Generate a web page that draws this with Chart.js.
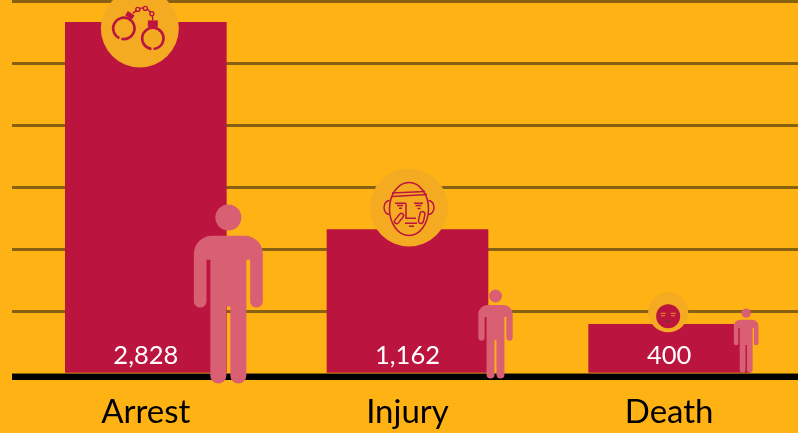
<!DOCTYPE html>
<html>
<head>
<meta charset="utf-8">
<style>
    html, body { margin: 0; padding: 0; background: #FFB213; overflow: hidden; }
    canvas { display: block; }
</style>
<script src="https://cdn.jsdelivr.net/npm/chart.js@4/dist/chart.umd.min.js"></script>
</head>
<body>
<canvas id="myChart" width="800" height="433"></canvas>
<script>
const categories = ["Arrest", "Injury", "Death"];
const incidents = [2828, 1162, 400];
const yTicks = [0, 500, 1000, 1500, 2000, 2500, 3000];

const barColor = '#BB143F';
const badgeColor = '#F4AB22';
const personColor = '#D95F73';
const gridColor = '#876012';
const fontName = 'Lato, "Noto Sans", sans-serif';

// Icon placement relative to each bar (centre, top, base)
const badges = [
    { dx: -6, dy: 6, r: 39, draw: drawHandcuffs },
    { dx: 1.5, dy: -22, r: 39, draw: drawFace },
    { dx: -1, dy: -12, r: 20, draw: drawSadFace }
];
const people = [
    { dx: 82.5, drop: 11, height: 179 },
    { dx: 88, drop: 6, height: 89 },
    { dx: 77, drop: 0, height: 64 }
];

function line(ctx, x1, y1, x2, y2) {
    ctx.beginPath();
    ctx.moveTo(x1, y1);
    ctx.lineTo(x2, y2);
    ctx.stroke();
}

function drawHandcuffs(ctx) {
    ctx.strokeStyle = barColor;
    ctx.fillStyle = barColor;
    ctx.lineWidth = 2.6;
    ctx.beginPath();
    ctx.arc(-16, 0, 10.7, 2.0, 1.8 + Math.PI * 2);
    ctx.stroke();
    ctx.beginPath();
    ctx.arc(13, 10, 10.7, 1.7, 1.5 + Math.PI * 2);
    ctx.stroke();

    // locks
    ctx.save();
    ctx.translate(-10, -13);
    ctx.rotate(0.6);
    ctx.fillRect(-4, -2.5, 8, 5);
    ctx.restore();
    ctx.fillRect(8, -8, 10, 6.5);

    // chain
    ctx.lineWidth = 1.4;
    [[-2, -19], [5.5, -20], [12, -14.7]].forEach(([x, y]) => {
        ctx.beginPath();
        ctx.arc(x, y, 2, 0, Math.PI * 2);
        ctx.stroke();
    });
    line(ctx, -7, -15, -3.5, -18);
    line(ctx, 0, -20, 3.5, -20.5);
    line(ctx, 7.5, -19.5, 10.5, -16.5);
    line(ctx, 12.5, -13, 13, -8);
}

function drawFace(ctx) {
    ctx.strokeStyle = barColor;
    ctx.lineWidth = 1.5;
    ctx.beginPath();
    ctx.ellipse(0, 1.5, 19.5, 26.5, 0, 0, Math.PI * 2);
    ctx.stroke();
    // ears
    ctx.beginPath();
    ctx.ellipse(-19.5, 0, 5.5, 7, 0, Math.PI / 2, Math.PI * 1.5);
    ctx.stroke();
    ctx.beginPath();
    ctx.ellipse(19.5, 0, 5.5, 7, 0, -Math.PI / 2, Math.PI / 2);
    ctx.stroke();
    // headband
    line(ctx, -17, -14.5, 16, -16);
    line(ctx, -17, -11, 18, -13);
    // brows
    line(ctx, -14, -4.3, -3, -4.3);
    line(ctx, -12, -2, -6, -2);
    line(ctx, -10, 0.7, -7, 0.7);
    line(ctx, 5, -4.3, 14, -4.3);
    line(ctx, 6.5, -2, 12.5, -2);
    line(ctx, 8.5, 1, 11.5, 1);
    // nose
    ctx.beginPath();
    ctx.moveTo(-3, -4);
    ctx.lineTo(-3, 10.7);
    ctx.lineTo(7, 10.7);
    ctx.stroke();
    // mouth
    line(ctx, -4, 15.7, 8, 15.7);
    line(ctx, 0, 18.7, 5, 18.7);
    // plasters
    ctx.beginPath();
    ctx.save();
    ctx.translate(-10, 11);
    ctx.rotate(-0.9);
    ctx.roundRect(-6, -2.2, 12, 4.4, 2.2);
    ctx.restore();
    ctx.save();
    ctx.translate(12.7, 10);
    ctx.rotate(-1.35);
    ctx.roundRect(-6, -2.5, 12, 5, 2.5);
    ctx.restore();
    ctx.stroke();
}

function drawSadFace(ctx) {
    ctx.fillStyle = barColor;
    ctx.beginPath();
    ctx.arc(0, 4, 12, 0, Math.PI * 2);
    ctx.fill();
    ctx.lineWidth = 1;
    ctx.strokeStyle = '#E8941F';
    [-5, 5].forEach(x => {
        line(ctx, x - 2.5, 1, x + 2.5, 1);
        line(ctx, x - 2, 3.5, x + 2, 3.5);
    });
    ctx.strokeStyle = '#6B3A20';
    line(ctx, -3, 8.7, 3, 8.7);
}

// Pictogram, drawn on a 179 unit tall grid with the feet at the bottom
function drawPerson(ctx, x, bottom, height) {
    const s = height / 179;
    ctx.save();
    ctx.translate(x, bottom - height);
    ctx.scale(s, s);
    ctx.fillStyle = personColor;
    ctx.beginPath();
    ctx.arc(0, 13, 13, 0, Math.PI * 2);
    ctx.fill();
    ctx.beginPath();
    ctx.roundRect(-34.5, 31.3, 69, 24, [18, 18, 0, 0]);
    ctx.roundRect(-34.5, 45, 12.7, 58, 6.35);
    ctx.roundRect(21.8, 45, 12.7, 58, 6.35);
    ctx.rect(-18, 40, 36, 62);
    ctx.roundRect(-18, 90, 16, 89, 8);
    ctx.roundRect(2, 90, 16, 89, 8);
    ctx.fill();
    ctx.restore();
}

const decorations = {
    id: 'decorations',
    afterDatasetsDraw(chart) {
        const { ctx, scales } = chart;
        const bars = chart.getDatasetMeta(0).data;

        // thick black base line, sits just under the bars
        const baseY = scales.y.getPixelForValue(0);
        ctx.save();
        ctx.fillStyle = '#000';
        ctx.fillRect(12, baseY, chart.width, 6);

        bars.forEach((bar, i) => {
            const b = badges[i];
            ctx.save();
            ctx.translate(bar.x + b.dx, bar.y + b.dy);
            ctx.fillStyle = badgeColor;
            ctx.beginPath();
            ctx.arc(0, 0, b.r, 0, Math.PI * 2);
            ctx.fill();
            b.draw(ctx);
            ctx.restore();

            ctx.fillStyle = '#fff';
            ctx.font = '25.5px ' + fontName;
            ctx.textAlign = 'center';
            ctx.textBaseline = 'middle';
            ctx.fillText(incidents[i].toLocaleString('en-US'), bar.x, bar.base - 17);

            const p = people[i];
            drawPerson(ctx, bar.x + p.dx, bar.base + p.drop, p.height);
        });
        ctx.restore();
    }
};

const ctx = document.getElementById('myChart').getContext('2d');
const myChart = new Chart(ctx, {
    type: 'bar',
    data: {
        labels: categories,
        datasets: [{
            data: incidents,
            backgroundColor: barColor,
            borderWidth: 0,
            barThickness: 161
        }]
    },
    options: {
        responsive: false,
        animation: false,
        layout: { padding: { left: 12, top: 1 } },
        plugins: { legend: { display: false }, tooltip: { enabled: false } },
        scales: {
            x: {
                border: { display: false },
                grid: { display: false },
                ticks: {
                    color: '#000',
                    padding: 11,
                    font: { family: fontName, size: 33 },
                    maxRotation: 0
                },
                afterFit: scale => { scale.height = 59; }
            },
            y: {
                min: 0,
                max: 3000,
                border: { display: false },
                grid: { color: gridColor, lineWidth: 3, tickLength: 3 },
                ticks: { display: false, stepSize: 500 },
                afterBuildTicks: scale => { scale.ticks = yTicks.map(value => ({ value })); }
            }
        }
    },
    plugins: [decorations]
});
</script>
</body>
</html>
